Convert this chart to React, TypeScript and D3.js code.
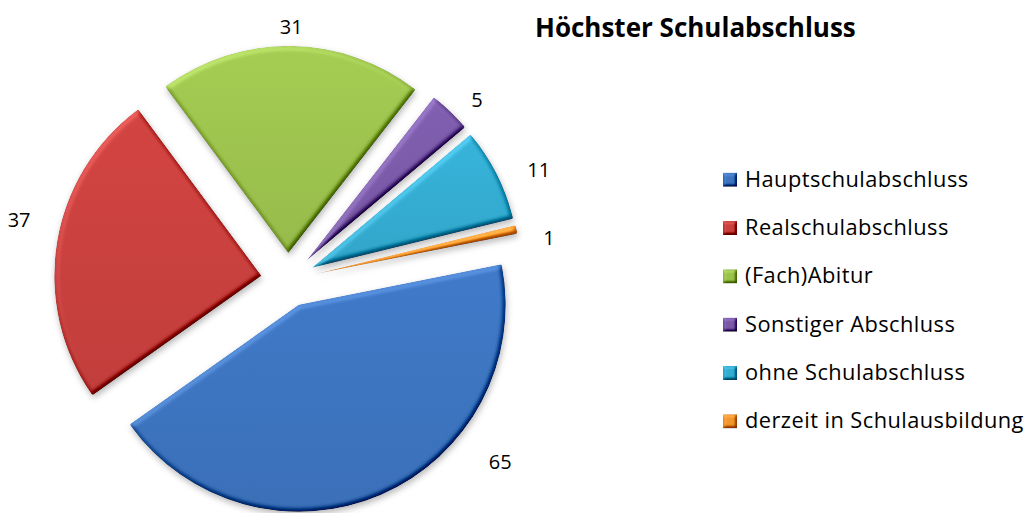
import React from "react";
import * as d3 from "d3";

const categories = [
  "Hauptschulabschluss",
  "Realschulabschluss",
  "(Fach)Abitur",
  "Sonstiger Abschluss",
  "ohne Schulabschluss",
  "derzeit in Schulausbildung",
];
const values = [65, 37, 31, 5, 11, 1];
const palette = ["#3d74bf", "#c8403e", "#9cc24e", "#7a5aa8", "#34abd0", "#f29630"];
const title = "Höchster Schulabschluss";

const W = 1031;
const H = 513;
const CX = 288;
const CY = 280;
const R = 207;
const EXPLODE = 27;
const START_DEG = 78.7;
const FONT = "'Open Sans', 'Noto Sans', sans-serif";

export default function App() {
  const start = (START_DEG * Math.PI) / 180;
  const pie = d3
    .pie<number>()
    .sort(null)
    .value((d) => d)
    .startAngle(start)
    .endAngle(start + 2 * Math.PI);
  const arcs = pie(values);
  const arcGen = d3.arc<d3.PieArcDatum<number>>().innerRadius(0).outerRadius(R).cornerRadius(1.5);

  const elev = 55;
  const kd = 0.55;
  const k4 = -kd * Math.sin((elev * Math.PI) / 180);

  const legendY = d3.scalePoint<string>().domain(categories).range([186.7, 428.3]);

  return (
    <svg
      width={W}
      height={H}
      style={{ position: "absolute", left: 0, top: 0, background: "#fff" }}
    >
      <defs>
        <filter id="bev" x="-15%" y="-15%" width="130%" height="130%" colorInterpolationFilters="sRGB">
          <feGaussianBlur in="SourceAlpha" stdDeviation="2.4" result="b" />
          <feDiffuseLighting in="b" surfaceScale="3.5" diffuseConstant="1" lightingColor="#fff" result="d">
            <feDistantLight azimuth="235" elevation={elev} />
          </feDiffuseLighting>
          <feComposite in="SourceGraphic" in2="d" operator="arithmetic" k1="0" k2="1" k3={kd} k4={k4} result="lit" />
          <feComposite in="lit" in2="SourceAlpha" operator="in" result="clip" />
          <feGaussianBlur in="SourceAlpha" stdDeviation="3" result="sb" />
          <feOffset in="sb" dx="1" dy="3" result="so" />
          <feFlood floodColor="#000" floodOpacity="0.28" />
          <feComposite in2="so" operator="in" result="shadow" />
          <feMerge>
            <feMergeNode in="shadow" />
            <feMergeNode in="clip" />
          </feMerge>
        </filter>
        <filter id="bevS" x="-30%" y="-30%" width="160%" height="160%" colorInterpolationFilters="sRGB">
          <feGaussianBlur in="SourceAlpha" stdDeviation="1.6" result="b" />
          <feDiffuseLighting in="b" surfaceScale="3" diffuseConstant="1" lightingColor="#fff" result="d">
            <feDistantLight azimuth="235" elevation={elev} />
          </feDiffuseLighting>
          <feComposite in="SourceGraphic" in2="d" operator="arithmetic" k1="0" k2="1" k3={kd} k4={k4} result="lit" />
          <feComposite in="lit" in2="SourceAlpha" operator="in" />
        </filter>
        {palette.map((c, i) => (
          <linearGradient key={i} id={`g${i}`} x1="0" y1="0" x2="0" y2="1">
            <stop offset="0" stopColor={d3.color(c)!.brighter(0.15).formatHex()} />
            <stop offset="1" stopColor={d3.color(c)!.darker(0.1).formatHex()} />
          </linearGradient>
        ))}
      </defs>

      {arcs.map((a, i) => {
        const mid = (a.startAngle + a.endAngle) / 2;
        const dx = EXPLODE * Math.sin(mid);
        const dy = -EXPLODE * Math.cos(mid);
        return (
          <path
            key={categories[i]}
            d={arcGen(a) || ""}
            transform={`translate(${CX + dx},${CY + dy})`}
            fill={`url(#g${i})`}
            filter="url(#bev)"
          />
        );
      })}

      {arcs.map((a, i) => {
        const txt = String(values[i]);
        const tw = txt.length * 11.5;
        const base = (a.startAngle + a.endAngle) / 2;
        let mid = base + ((3.5 * Math.PI) / 180) * Math.abs(Math.sin(base));
        let dist = R + EXPLODE + 19 + tw * Math.abs(Math.sin(mid));
        let x = CX + dist * Math.sin(mid);
        let y = CY - dist * Math.cos(mid);
        const maxY = H - 51;
        if (y > maxY) {
          dist += 18;
          const c = -(maxY - CY) / dist;
          const ang = Math.acos(c);
          mid = Math.sin(mid) >= 0 ? ang : 2 * Math.PI - ang;
          x = CX + dist * Math.sin(mid);
          y = maxY;
        }
        return (
          <text
            key={"l" + i}
            x={x}
            y={y}
            dy="0.36em"
            textAnchor="middle"
            fontFamily={FONT}
            fontSize={20}
            fill="#000"
          >
            {txt}
          </text>
        );
      })}

      <text x={535} y={37} fontFamily={FONT} fontWeight="bold" fontSize={26} fill="#000">
        {title}
      </text>

      {categories.map((c, i) => {
        const by = legendY(c)!;
        return (
          <g key={"lg" + i}>
            <rect x={723} y={by - 14} width={14} height={14} fill={palette[i]} filter="url(#bevS)" />
            <text x={745} y={by} fontFamily={FONT} fontSize={21.8} letterSpacing={0.45} fill="#000">
              {c}
            </text>
          </g>
        );
      })}
    </svg>
  );
}
